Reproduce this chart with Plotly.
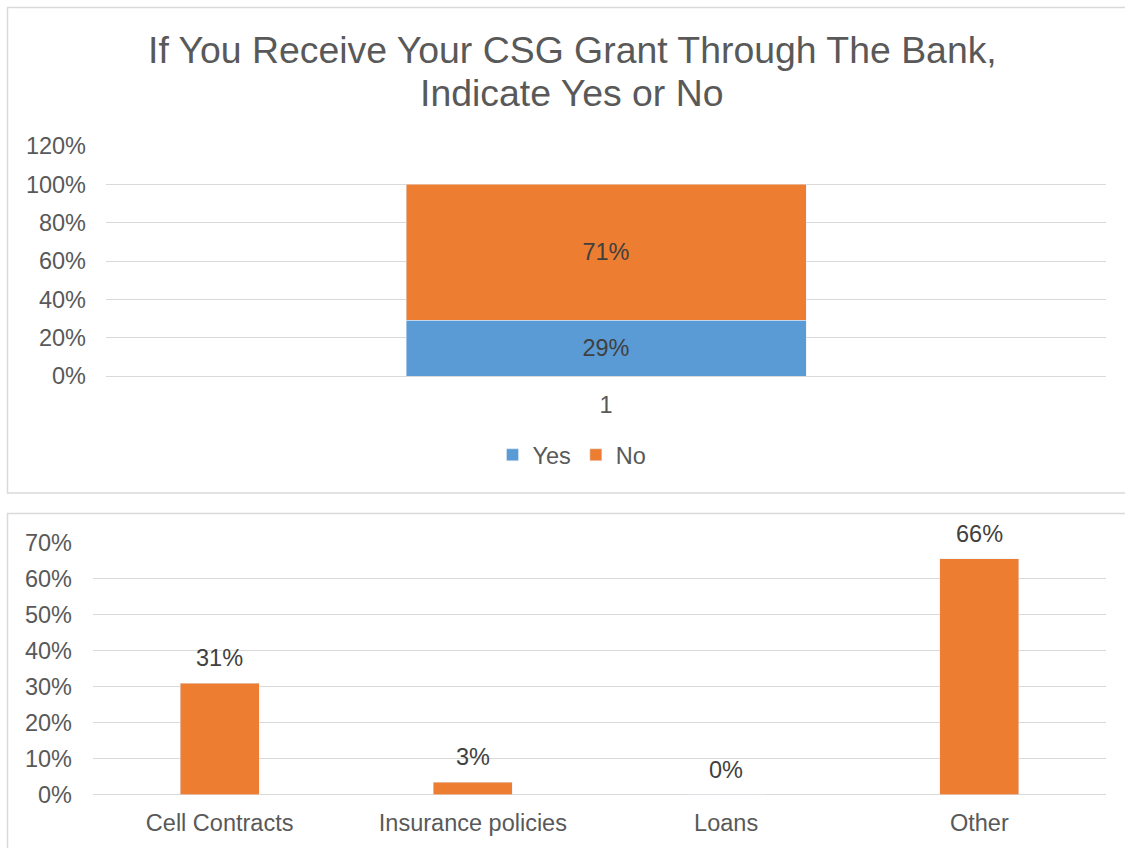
import plotly.graph_objects as go

# ---- data ----
top_category = ["1"]
yes_values = [0.29]
no_values = [0.71]
series_names = ["Yes", "No"]

bottom_categories = ["Cell Contracts", "Insurance policies", "Loans", "Other"]
bottom_values = [0.31, 0.034, 0.0, 0.656]

title_lines = ["If You Receive Your CSG Grant Through The Bank,", "Indicate Yes or No"]

# ---- style ----
W, H = 1125, 848
FONT = "Liberation Sans, Arial, sans-serif"
TICK_COLOR = "#595959"
LABEL_COLOR = "#404040"
GRID = "#d9d9d9"
ORANGE = "#ED7D31"
BLUE = "#5B9BD5"
FS = 23.5


def px_x(p):
    return p / W


def px_y(p):
    return 1 - p / H


fig = go.Figure()

fig.add_trace(go.Bar(
    x=top_category, y=yes_values, name=series_names[0], marker_color=BLUE,
    texttemplate="%{y:.0%}", textposition="inside", insidetextanchor="middle",
    textfont=dict(color=LABEL_COLOR, size=FS, family=FONT),
    xaxis="x", yaxis="y", hoverinfo="skip",
))
fig.add_trace(go.Bar(
    x=top_category, y=no_values, name=series_names[1], marker_color=ORANGE,
    texttemplate="%{y:.0%}", textposition="inside", insidetextanchor="middle",
    textfont=dict(color=LABEL_COLOR, size=FS, family=FONT),
    xaxis="x", yaxis="y", hoverinfo="skip",
))

fig.add_trace(go.Bar(
    x=bottom_categories, y=bottom_values, marker_color=ORANGE, showlegend=False,
    xaxis="x2", yaxis="y2", width=0.312, hoverinfo="skip",
))

annotations = []
for cat, val in zip(bottom_categories, bottom_values):
    annotations.append(dict(
        x=cat, y=val, xref="x2", yref="y2", text=f"{val:.0%}", showarrow=False,
        yanchor="middle", yshift=25, font=dict(size=FS, color=LABEL_COLOR, family=FONT),
    ))

# title lines
annotations.append(dict(x=px_x(572), y=px_y(50), xref="paper", yref="paper",
                        text=title_lines[0], showarrow=False, xanchor="center", yanchor="middle",
                        font=dict(size=37.4, color=TICK_COLOR, family=FONT)))
annotations.append(dict(x=px_x(572), y=px_y(93), xref="paper", yref="paper",
                        text=title_lines[1], showarrow=False, xanchor="center", yanchor="middle",
                        font=dict(size=37.4, color=TICK_COLOR, family=FONT)))

axis_common = dict(
    showline=False, ticks="", tickfont=dict(size=FS, color=TICK_COLOR, family=FONT),
    fixedrange=True, automargin=False,
)

fig.update_layout(
    width=W, height=H, autosize=False,
    margin=dict(l=0, r=0, t=0, b=0, pad=0, autoexpand=False),
    paper_bgcolor="white", plot_bgcolor="white",
    barmode="stack", bargap=0.6,
    font=dict(family=FONT, color=TICK_COLOR),
    xaxis=dict(domain=[px_x(106), px_x(1106)], anchor="y", showgrid=False,
               ticklabelstandoff=12, **axis_common),
    yaxis=dict(domain=[px_y(376), px_y(146)], anchor="x", range=[0, 1.2], dtick=0.2,
               tickformat=".0%", showgrid=True, gridcolor=GRID, gridwidth=1.3,
               zeroline=True, zerolinecolor=GRID, zerolinewidth=1.3,
               ticklabelstandoff=19, **axis_common),
    xaxis2=dict(domain=[px_x(93), px_x(1106)], anchor="y2", showgrid=False,
                ticklabelstandoff=12, **axis_common),
    yaxis2=dict(domain=[px_y(794.5), px_y(543)], anchor="x2", range=[0, 0.7], dtick=0.1,
                tickformat=".0%", showgrid=True, gridcolor=GRID, gridwidth=1.3,
                zeroline=True, zerolinecolor=GRID, zerolinewidth=1.3,
                ticklabelstandoff=20, **axis_common),
    showlegend=True,
    legend=dict(orientation="h", x=px_x(572), y=px_y(455), xanchor="center", yanchor="middle",
                font=dict(size=FS, color=TICK_COLOR, family=FONT), traceorder="normal",
                bgcolor="rgba(0,0,0,0)", itemwidth=30),
    annotations=annotations,
    shapes=[
        dict(type="rect", xref="paper", yref="paper", x0=px_x(7.5), x1=px_x(1140),
             y0=px_y(493), y1=px_y(7.5), line=dict(color=GRID, width=1.5), layer="below"),
        dict(type="rect", xref="paper", yref="paper", x0=px_x(7.5), x1=px_x(1140),
             y0=px_y(860), y1=px_y(513.5), line=dict(color=GRID, width=1.5), layer="below"),
    ],
)

fig.write_html(
    "out.html",
    config={"displayModeBar": False},
    post_script="document.body.style.margin='0';document.body.style.overflow='hidden';",
)
